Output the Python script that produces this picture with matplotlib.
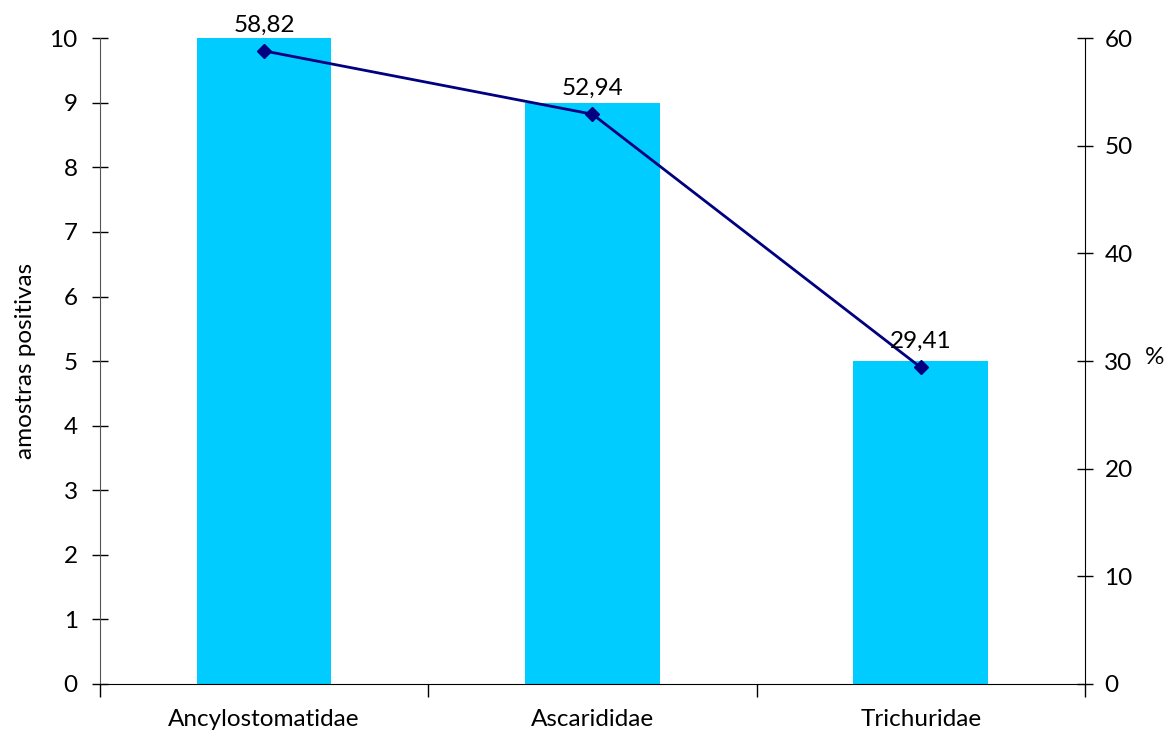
import numpy as np
import matplotlib.pyplot as plt
from matplotlib.ticker import FixedLocator

plt.rcParams['font.family'] = ['Lato', 'DejaVu Sans']

categories = ["Ancylostomatidae", "Ascarididae", "Trichuridae"]
positives = [10, 9, 5]
percent = [58.82, 52.94, 29.41]
percent_labels = ["58,82", "52,94", "29,41"]

FS = 17.5


def main():
    fig = plt.figure(figsize=(11.76, 7.35), dpi=100)
    ax = fig.add_axes([0.085, 0.0694, 0.8376, 0.8786])
    x = np.arange(len(categories))

    ax.bar(x, positives, width=0.41, color='#00CCFF', zorder=2)
    ax.set_xlim(-0.5, len(categories) - 0.5)
    ax.set_ylim(0, 10)
    ax.set_yticks(range(0, 11))
    ax.set_xticks(x)
    ax.set_xticklabels(categories, fontsize=FS)
    ax.xaxis.set_minor_locator(FixedLocator(np.arange(-0.5, len(categories), 1.0)))
    ax.tick_params(axis='x', which='major', length=0, pad=18)
    ax.tick_params(axis='x', which='minor', length=9, direction='out', width=1)
    ax.tick_params(axis='y', direction='inout', length=12, width=1, labelsize=FS, pad=10)
    ax.spines['top'].set_visible(False)
    ax.spines['right'].set_visible(False)
    ax.spines['left'].set_color('#555555')
    ax.set_ylabel("amostras positivas", fontsize=FS, labelpad=10)

    ax2 = ax.twinx()
    ax2.plot(x, percent, color='#000080', lw=2, marker='D', markersize=7, zorder=3)
    ax2.set_ylim(0, 60)
    ax2.set_yticks(range(0, 61, 10))
    ax2.tick_params(axis='y', direction='inout', length=12, width=1, labelsize=FS, pad=8)
    for s in ['top', 'left', 'bottom']:
        ax2.spines[s].set_visible(False)
    for xi, yi, lab in zip(x, percent, percent_labels):
        ax2.annotate(lab, (xi, yi), xytext=(0, 11), textcoords='offset points',
                     ha='center', va='bottom', fontsize=FS)
    ax2.text(1.061, 0.505, "%", transform=ax2.transAxes, fontsize=FS,
             ha='left', va='center')

    fig.savefig("out.png", dpi=100)


if __name__ == "__main__":
    main()
